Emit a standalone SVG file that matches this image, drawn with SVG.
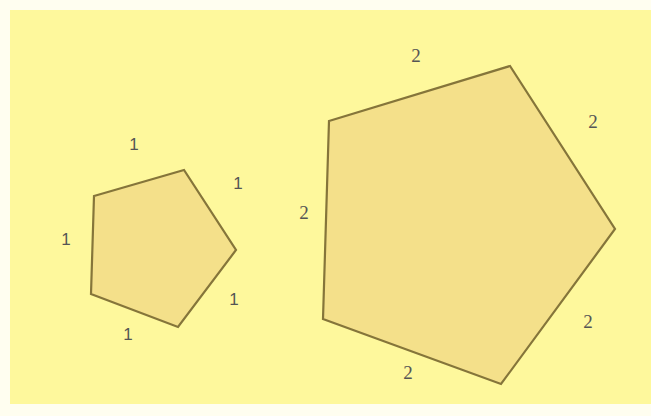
<svg xmlns="http://www.w3.org/2000/svg" width="651" height="416" viewBox="0 0 651 416">
<style>
.pent{fill:#F4E08A;stroke:#85753A;stroke-width:2.2;stroke-linejoin:miter}
.l1{font-family:"Liberation Sans",Arial,sans-serif;font-size:17px;fill:#555;text-anchor:middle}
.l2{font-family:"Liberation Serif","Times New Roman",serif;font-size:19px;fill:#555;text-anchor:middle}
</style>
<rect width="651" height="416" fill="#FFFEF0"/>
<rect x="10" y="10" width="641" height="394" fill="#FEF89C"/>
<g id="small">
<polygon class="pent" points="94,196 184,170 236,250 178,327 91,294"/>
<text class="l1" x="134" y="150">1</text>
<text class="l1" x="238" y="189">1</text>
<text class="l1" x="66" y="245">1</text>
<text class="l1" x="234" y="305">1</text>
<text class="l1" x="128" y="340">1</text>
</g>
<g id="large">
<polygon class="pent" points="329,121 510,66 615,229 501,384 323,319"/>
<text class="l2" x="416" y="62">2</text>
<text class="l2" x="593" y="128">2</text>
<text class="l2" x="304" y="219">2</text>
<text class="l2" x="588" y="328">2</text>
<text class="l2" x="408" y="379">2</text>
</g>
</svg>
